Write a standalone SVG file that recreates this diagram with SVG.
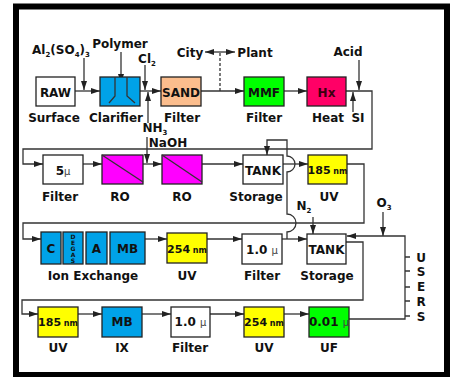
<svg xmlns="http://www.w3.org/2000/svg" width="451" height="377" viewBox="0 0 451 377">
<style>
text{font-family:"DejaVu Sans","Liberation Sans",sans-serif;font-weight:bold;fill:#111;font-size:12px;text-anchor:middle;}
text.dg{font-size:6px;}
.mu{font-weight:normal;font-size:10px;fill:#444;}
.sub{font-size:7px;}
.box{stroke:#222;stroke-width:1.3;}
.ln{fill:none;stroke:#333;stroke-width:1.3;}
.blue{fill:#00a2e8;}
.yel{fill:#ffff00;}
.grn{fill:#00ff00;}
.wht{fill:#ffffff;}
.mag{fill:#ff00ff;}
</style>
<defs>
<marker id="ah" markerUnits="userSpaceOnUse" markerWidth="10" markerHeight="7" refX="9" refY="3.5" orient="auto"><path d="M0,0.5 L9,3.5 L0,6.5 z" fill="#222"/></marker>
</defs>
<rect x="0" y="0" width="451" height="377" fill="#fff"/>
<rect x="16" y="6.5" width="431" height="368.5" fill="none" stroke="#000" stroke-width="6"/>

<g id="connectors">
<path class="ln" d="M75,91 H100" marker-end="url(#ah)"/>
<path class="ln" d="M84,58 V90" marker-end="url(#ah)"/>
<path class="ln" d="M121,52 V83" marker-end="url(#ah)"/>
<path class="ln" d="M140,91 H161" marker-end="url(#ah)"/>
<path class="ln" d="M145,65 V90" marker-end="url(#ah)"/>
<path class="ln" d="M148,123 V92" marker-end="url(#ah)"/>
<path class="ln" d="M220,52 H205" marker-end="url(#ah)"/>
<path class="ln" d="M220,52 H235" marker-end="url(#ah)"/>
<path class="ln" d="M220,53 V91" stroke-dasharray="3,2"/>
<path class="ln" d="M201,91 H244" marker-end="url(#ah)"/>
<path class="ln" d="M284,91 H307" marker-end="url(#ah)"/>
<path class="ln" d="M346,91 H372 V149 H23 V164 H43" marker-end="url(#ah)"/>
<path class="ln" d="M359,60 V90" marker-end="url(#ah)"/>
<path class="ln" d="M353,112 V92" marker-end="url(#ah)"/>
<path class="ln" d="M83,164 H102" marker-end="url(#ah)"/>
<path class="ln" d="M143,164 H162" marker-end="url(#ah)"/>
<path class="ln" d="M147,137 V163" marker-end="url(#ah)"/>
<path class="ln" d="M202,164 H243" marker-end="url(#ah)"/>
<path class="ln" d="M283,164 H308" marker-end="url(#ah)"/>
<path class="ln" d="M287,239 V232 A9,9 0 0 0 287,214 V172 A8,8 0 0 0 287,156 V140 H267 V155" marker-end="url(#ah)"/>
<path class="ln" d="M347,164 H364 V223 H23 V239 H41" marker-end="url(#ah)"/>
<path class="ln" d="M145,239 H167" marker-end="url(#ah)"/>
<path class="ln" d="M207,239 H242" marker-end="url(#ah)"/>
<path class="ln" d="M282,239 H307" marker-end="url(#ah)"/>
<path class="ln" d="M313,217 V234" marker-end="url(#ah)"/>
<path class="ln" d="M383,212 V236" marker-end="url(#ah)"/>
<path class="ln" d="M349,319 H405 V236 H347" marker-end="url(#ah)"/>
<path class="ln" d="M346,242 H363 V300 H22 V314 H38" marker-end="url(#ah)"/>
<path class="ln" d="M78,314 H102" marker-end="url(#ah)"/>
<path class="ln" d="M142,314 H171" marker-end="url(#ah)"/>
<path class="ln" d="M210,314 H244" marker-end="url(#ah)"/>
<path class="ln" d="M284,314 H309" marker-end="url(#ah)"/>
<path class="ln" d="M405,257 H410 M405,271 H410 M405,287 H410 M405,301 H410 M405,316 H410"/>
</g>

<g id="labels">
<text x="61" y="54">Al<tspan class="sub" dy="3">2</tspan><tspan dy="-3">(SO</tspan><tspan class="sub" dy="3">4</tspan><tspan dy="-3">)</tspan><tspan class="sub" dy="3">3</tspan></text>
<text x="120" y="48">Polymer</text>
<text x="147" y="62.5">Cl<tspan class="sub" dy="3">2</tspan></text>
<text x="190" y="57">City</text>
<text x="255" y="57">Plant</text>
<text x="348" y="56">Acid</text>
<text x="155" y="132">NH<tspan class="sub" dy="3">3</tspan></text>
<text x="168" y="147">NaOH</text>
<text x="304" y="210">N<tspan class="sub" dy="3">2</tspan></text>
<text x="384" y="207">O<tspan class="sub" dy="3">3</tspan></text>
<text x="421" y="261.5">U</text>
<text x="421" y="275.5">S</text>
<text x="421" y="291">E</text>
<text x="421" y="305.5">R</text>
<text x="421" y="320.5">S</text>
</g>

<g id="raw"><rect class="box wht" x="36" y="77" width="39" height="29"/><text x="55.5" y="96.5">RAW</text><text x="54" y="122">Surface</text></g>
<g id="clarifier"><rect class="box blue" x="100" y="77" width="40" height="29"/><path class="ln" d="M115,77 V96 L109,103 M127,77 V96 L135,103"/><text x="116" y="122">Clarifier</text></g>
<g id="sand"><rect class="box" fill="#fbbd8d" x="161" y="77" width="40" height="29"/><text x="181" y="96.5">SAND</text><text x="182" y="122">Filter</text></g>
<g id="mmf"><rect class="box grn" x="244" y="77" width="40" height="29"/><text x="264" y="96.5">MMF</text><text x="264" y="122">Filter</text></g>
<g id="hx"><rect class="box" fill="#ff0066" x="307" y="77" width="39" height="29"/><text x="326.5" y="96.5" style="fill:#3a0010">Hx</text><text x="328" y="122">Heat</text><text x="358" y="122">SI</text></g>

<g id="filter5"><rect class="box wht" x="43" y="155" width="40" height="29"/><text x="63" y="175">5<tspan class="mu">µ</tspan></text><text x="60" y="201">Filter</text></g>
<g id="ro1"><rect class="box mag" x="102" y="155" width="41" height="29"/><path class="ln" d="M102,155 L143,182"/><text x="120" y="201">RO</text></g>
<g id="ro2"><rect class="box mag" x="162" y="155" width="40" height="29"/><path class="ln" d="M162,155 L202,182"/><text x="182" y="201">RO</text></g>
<g id="tank1"><rect class="box wht" x="243" y="155" width="40" height="29"/><text x="263" y="174.5">TANK</text><text x="256" y="201">Storage</text></g>
<g id="uv185a"><rect class="box yel" x="308" y="155" width="39" height="29"/><text x="327.5" y="174"><tspan font-size="11">185</tspan><tspan font-size="8"> nm</tspan></text><text x="329" y="201">UV</text></g>

<g id="ionx">
<rect class="box blue" x="41" y="232" width="20" height="32"/><text x="51" y="253">C</text>
<rect class="box blue" x="63" y="232" width="20" height="32"/>
<text class="dg" x="73" y="238.5">D</text><text class="dg" x="73" y="244.5">E</text><text class="dg" x="73" y="250.5">G</text><text class="dg" x="73" y="256.5">A</text><text class="dg" x="73" y="262.5">S</text>
<rect class="box blue" x="86" y="232" width="21" height="32"/><text x="96.5" y="253">A</text>
<rect class="box blue" x="110" y="232" width="35" height="32"/><text x="127.5" y="253">MB</text>
<text x="93" y="280">Ion Exchange</text>
</g>
<g id="uv254a"><rect class="box yel" x="167" y="233" width="40" height="30"/><text x="187" y="252.5"><tspan font-size="11">254</tspan><tspan font-size="8"> nm</tspan></text><text x="187" y="280">UV</text></g>
<g id="filter10a"><rect class="box wht" x="242" y="234" width="40" height="30"/><text x="262" y="253.5">1.0 <tspan class="mu">µ</tspan></text><text x="262" y="280">Filter</text></g>
<g id="tank2"><rect class="box wht" x="307" y="234" width="39" height="30"/><text x="326.5" y="253.5">TANK</text><text x="327" y="280">Storage</text></g>

<g id="uv185b"><rect class="box yel" x="38" y="307" width="40" height="30"/><text x="58" y="326"><tspan font-size="11">185</tspan><tspan font-size="8"> nm</tspan></text><text x="58" y="352">UV</text></g>
<g id="mb"><rect class="box blue" x="102" y="307" width="40" height="30"/><text x="122" y="326">MB</text><text x="122" y="352">IX</text></g>
<g id="filter10b"><rect class="box wht" x="171" y="307" width="39" height="30"/><text x="190.5" y="326">1.0 <tspan class="mu">µ</tspan></text><text x="190" y="352">Filter</text></g>
<g id="uv254b"><rect class="box yel" x="244" y="307" width="40" height="30"/><text x="264" y="326"><tspan font-size="11">254</tspan><tspan font-size="8"> nm</tspan></text><text x="264" y="352">UV</text></g>
<g id="uf"><rect class="box grn" x="309" y="307" width="40" height="30"/><text x="329" y="326">0.01 <tspan class="mu">µ</tspan></text><text x="329" y="352">UF</text></g>
</svg>
